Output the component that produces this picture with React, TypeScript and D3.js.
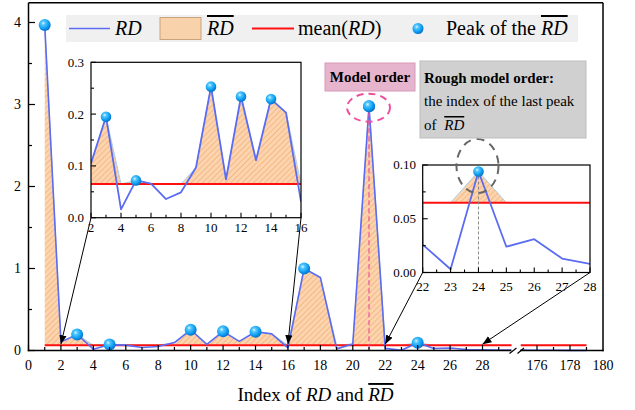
import React from "react";
import * as d3 from "d3";

// ---------- data ----------
const idxSeg1 = [1,2,3,4,5,6,7,8,9,10,11,12,13,14,15,16,17,18,19,20,21,22,23,24,25,26,27,28,29,30];
const rdSeg1 = [3.97,0.105,0.195,0.016,0.072,0.066,0.036,0.049,0.097,0.253,0.074,0.234,0.111,0.229,0.203,0.031,1.0,0.89,0.02,0.08,2.98,0.026,0.003,0.094,0.024,0.031,0.013,0.008,0.005,0.004];
const idxSeg2 = [175,176,177,178,179];
const rdSeg2 = [0.004,0.003,0.003,0.002,0.002];
const meanRD = 0.065;
const peakIdx = [1,3,5,10,12,14,17,21,24];
const modelOrder = 21;
const roughOrder = 24;
const mainYTicks = [0,1,2,3,4];
const seg1XTicks = [0,2,4,6,8,10,12,14,16,18,20,22,24,26,28];
const seg2XTicks = [176,178,180];
const inset1YTicks = [0,0.1,0.2,0.3];
const inset1XTicks = [2,4,6,8,10,12,14,16];
const inset2YTicks = [0,0.05,0.1];
const inset2XTicks = [22,23,24,25,26,27,28];

type P = { x: number; y: number };
const seg1: P[] = idxSeg1.map((x, i) => ({ x, y: rdSeg1[i] }));
const seg2: P[] = idxSeg2.map((x, i) => ({ x, y: rdSeg2[i] }));
const peaks: P[] = seg1.filter((d) => peakIdx.includes(d.x));

const SERIF = '"Liberation Serif", "Times New Roman", Times, "DejaVu Serif", serif';
const BLUE = "#5b6cf2";
const RED = "#ff1010";

// ---------- scales ----------
const x1 = d3.scaleLinear().domain([0, 29.8]).range([28.5, 511.7]);
const x2 = d3.scaleLinear().domain([175, 180]).range([520.5, 603]);
const yM = d3.scaleLinear().domain([0, 4]).range([350.5, 22.5]);

const ix1 = d3.scaleLinear().domain([2, 16]).range([91, 301]);
const iy1 = d3.scaleLinear().domain([0, 0.3]).range([217.7, 62.3]);
const ix2 = d3.scaleLinear().domain([22, 28]).range([422.7, 590]);
const iy2 = d3.scaleLinear().domain([0, 0.1]).range([272.5, 165]);

function Series({ data, xs, ys, clipId, lw = 1.6, showPeaks = true, r = 6 }: any) {
  const line = d3.line<P>().x((d) => xs(d.x)).y((d) => ys(d.y));
  const area = d3
    .area<P>()
    .x((d) => xs(d.x))
    .y0(ys(meanRD))
    .y1((d) => ys(Math.max(d.y, meanRD)));
  const barLine = d3.line<P>().x((d) => xs(d.x)).y((d) => ys(Math.max(d.y, meanRD)));
  const xd = xs.domain();
  return (
    <g clipPath={`url(#${clipId})`}>
      <path d={area(data) || ""} fill="url(#hatch)" />
      <path d={barLine(data) || ""} fill="none" stroke="#a9cdea" strokeWidth={1} />
      <line x1={xs(Math.max(xd[0], data[0].x))} x2={xs(Math.min(xd[1], data[data.length - 1].x))} y1={ys(meanRD)} y2={ys(meanRD)} stroke={RED} strokeWidth={2} />
      <path d={line(data) || ""} fill="none" stroke={BLUE} strokeWidth={lw} strokeLinejoin="round" />
      {showPeaks &&
        peaks
          .filter((p) => p.x >= xd[0] && p.x <= xd[1])
          .map((p) => <circle key={p.x} cx={xs(p.x)} cy={ys(p.y)} r={r} fill="url(#ball)" />)}
    </g>
  );
}

export default function App() {
  const yMean = yM(meanRD);
  const minor = (a: number, b: number, s: number) => d3.range(a, b + 1e-9, s);
  const T = { fontFamily: SERIF };
  return (
    <svg width={635} height={410} style={{ position: "absolute", left: 0, top: 0, background: "#fff", fontFamily: SERIF }}>
      <defs>
        <pattern id="hatch" patternUnits="userSpaceOnUse" width={4} height={4} patternTransform="rotate(45)">
          <rect width={4} height={4} fill="#fcd4ae" />
          <line x1={0} y1={0} x2={0} y2={4} stroke="#f3ae78" strokeWidth={1.4} />
        </pattern>
        <radialGradient id="ball" cx="0.38" cy="0.35" r="0.7">
          <stop offset="0%" stopColor="#e6f8ff" />
          <stop offset="22%" stopColor="#55c8ff" />
          <stop offset="65%" stopColor="#0c9df0" />
          <stop offset="100%" stopColor="#0668c4" />
        </radialGradient>
        <marker id="arr" viewBox="0 0 10 10" refX={10} refY={5} markerWidth={9} markerHeight={9} markerUnits="userSpaceOnUse" orient="auto">
          <path d="M0,1 L10,5 L0,9 z" fill="#000" />
        </marker>
        <clipPath id="c1"><rect x={28.5} y={0} width={511.7 - 28.5} height={352} /></clipPath>
        <clipPath id="c2"><rect x={520.5} y={0} width={603 - 520.5} height={352} /></clipPath>
        <clipPath id="ci1"><rect x={91} y={62.3} width={210} height={155.4} /></clipPath>
        <clipPath id="ci2"><rect x={422.7} y={165} width={590 - 422.7} height={107.5} /></clipPath>
      </defs>

      {/* main plot data */}
      <Series data={seg1} xs={x1} ys={yM} clipId="c1" />
      <Series data={seg2} xs={x2} ys={yM} clipId="c2" />
      {/* model order dashed */}
      <line x1={x1(modelOrder)} x2={x1(modelOrder)} y1={yM(2.98) + 6} y2={yM(0)} stroke="#ee4f9c" strokeWidth={1.2} strokeDasharray="5,3" />
      <circle cx={x1(modelOrder)} cy={yM(2.98)} r={6} fill="url(#ball)" />
      <ellipse cx={x1(modelOrder) - 0.5} cy={yM(2.98) + 1.5} rx={21.5} ry={14} fill="none" stroke="#ee4f9c" strokeWidth={2} strokeDasharray="7,5" />

      {/* main frame */}
      <g stroke="#000" strokeWidth={1.5} fill="none">
        <line x1={28.5} x2={28.5} y1={2.8} y2={351.2} />
        <line x1={28.5} x2={603} y1={2.8} y2={2.8} />
        <line x1={603} x2={603} y1={2.8} y2={351.2} />
        <line x1={27.8} x2={511} y1={350.5} y2={350.5} />
        <line x1={520} x2={603.7} y1={350.5} y2={350.5} />
        <line x1={509.5} x2={516.5} y1={353.5} y2={348} strokeWidth={1.2} />
        <line x1={517.5} x2={524} y1={353.5} y2={348} strokeWidth={1.2} />
      </g>
      {/* main ticks */}
      <g stroke="#000" strokeWidth={1.2}>
        {mainYTicks.map((t) => <line key={"my" + t} x1={28.5} x2={35} y1={yM(t)} y2={yM(t)} />)}
        {minor(0.5, 3.5, 1).map((t) => <line key={"mym" + t} x1={28.5} x2={32} y1={yM(t)} y2={yM(t)} />)}
        {seg1XTicks.map((t) => <line key={"mx" + t} x1={x1(t)} x2={x1(t)} y1={350.5} y2={345} />)}
        {minor(1, 29, 2).map((t) => <line key={"mxm" + t} x1={x1(t)} x2={x1(t)} y1={350.5} y2={347} />)}
        {[176, 178].map((t) => <line key={"m2" + t} x1={x2(t)} x2={x2(t)} y1={350.5} y2={345} />)}
        {[177, 179].map((t) => <line key={"m2m" + t} x1={x2(t)} x2={x2(t)} y1={350.5} y2={347} />)}
      </g>
      <g fontSize={14} fill="#000" style={T}>
        {mainYTicks.map((t) => <text key={"myl" + t} style={T} x={21} y={yM(t)} dy="0.34em" textAnchor="end">{t}</text>)}
        {seg1XTicks.map((t) => <text key={"mxl" + t} style={T} x={x1(t)} y={370} textAnchor="middle">{t}</text>)}
        {seg2XTicks.map((t) => <text key={"m2l" + t} style={T} x={x2(t)} y={370} textAnchor="middle">{t}</text>)}
      </g>
      {/* x title */}
      <text x={315.5} y={401} fontSize={19} textAnchor="middle" style={T}>
        Index of <tspan fontStyle="italic">RD</tspan> and <tspan fontStyle="italic" style={{ textDecoration: "overline" }}>RD</tspan>
      </text>

      {/* legend */}
      <rect x={66} y={15} width={512} height={27} fill="#f0f0f0" />
      <line x1={69} x2={110} y1={28.5} y2={28.5} stroke={BLUE} strokeWidth={1.6} />
      <text x={115} y={35} fontSize={20} fontStyle="italic" style={T}>RD</text>
      <rect x={160} y={17.5} width={41} height={22} fill="#f8d2ab" stroke="#c9a27e" strokeWidth={1} />
      <text x={207} y={35} fontSize={20} fontStyle="italic" style={{ ...T, textDecoration: "overline" }}>RD</text>
      <line x1={252} x2={294} y1={28.5} y2={28.5} stroke={RED} strokeWidth={2} />
      <text x={298} y={35} fontSize={20} style={T}>mean(<tspan fontStyle="italic">RD</tspan>)</text>
      <circle cx={418} cy={28.5} r={5.5} fill="url(#ball)" />
      <text x={446} y={35} fontSize={20} style={T}>Peak of the <tspan fontStyle="italic" style={{ textDecoration: "overline" }}>RD</tspan></text>

      {/* arrows */}
      <g stroke="#000" strokeWidth={1} markerEnd="url(#arr)">
        <line x1={91} y1={217.7} x2={x1(2)} y2={yMean - 1} />
        <line x1={301} y1={217.7} x2={x1(16)} y2={yMean - 1} />
        <line x1={422.7} y1={272.5} x2={x1(22)} y2={yMean - 1} />
        <line x1={590} y1={272.5} x2={x1(28)} y2={yMean - 1} />
      </g>

      {/* inset 1 */}
      <rect x={91} y={62.3} width={210} height={155.4} fill="#fff" />
      <Series data={seg1.filter((d) => d.x >= 2 && d.x <= 16)} xs={ix1} ys={iy1} clipId="ci1" r={5.3} lw={1.8} />
      <rect x={91} y={62.3} width={210} height={155.4} fill="none" stroke="#000" strokeWidth={1.2} />
      <g stroke="#000" strokeWidth={1.1}>
        {inset1YTicks.map((t) => <line key={"a" + t} x1={91} x2={96} y1={iy1(t)} y2={iy1(t)} />)}
        {[0.05, 0.15, 0.25].map((t) => <line key={"b" + t} x1={91} x2={94} y1={iy1(t)} y2={iy1(t)} />)}
        {inset1XTicks.map((t) => <line key={"c" + t} x1={ix1(t)} x2={ix1(t)} y1={217.7} y2={212.7} />)}
        {minor(3, 15, 2).map((t) => <line key={"d" + t} x1={ix1(t)} x2={ix1(t)} y1={217.7} y2={214.7} />)}
      </g>
      <g fontSize={13} style={T}>
        {inset1YTicks.map((t) => <text key={"e" + t} style={T} x={84} y={iy1(t)} dy="0.34em" textAnchor="end">{t.toFixed(1)}</text>)}
        {inset1XTicks.map((t) => <text key={"f" + t} style={T} x={ix1(t)} y={232} textAnchor="middle">{t}</text>)}
      </g>

      {/* inset 2 */}
      <rect x={422.7} y={165} width={590 - 422.7} height={107.5} fill="#fff" />
      <Series data={seg1.filter((d) => d.x >= 21 && d.x <= 29)} xs={ix2} ys={iy2} clipId="ci2" r={5.3} lw={1.8} showPeaks={false} />
      <line x1={ix2(roughOrder)} x2={ix2(roughOrder)} y1={iy2(0.094)} y2={272.5} stroke="#888" strokeWidth={1} strokeDasharray="3,2" />
      <circle cx={ix2(roughOrder)} cy={iy2(0.094)} r={5.3} fill="url(#ball)" />
      <rect x={422.7} y={165} width={590 - 422.7} height={107.5} fill="none" stroke="#000" strokeWidth={1.2} />
      <g stroke="#000" strokeWidth={1.1}>
        {inset2YTicks.map((t) => <line key={"g" + t} x1={422.7} x2={427.7} y1={iy2(t)} y2={iy2(t)} />)}
        {[0.025, 0.075].map((t) => <line key={"h" + t} x1={422.7} x2={425.7} y1={iy2(t)} y2={iy2(t)} />)}
        {inset2XTicks.map((t) => <line key={"i" + t} x1={ix2(t)} x2={ix2(t)} y1={272.5} y2={267.5} />)}
        {minor(22.5, 27.5, 1).map((t) => <line key={"j" + t} x1={ix2(t)} x2={ix2(t)} y1={272.5} y2={269.5} />)}
      </g>
      <g fontSize={13} style={T}>
        {inset2YTicks.map((t) => <text key={"k" + t} style={T} x={416} y={iy2(t)} dy="0.34em" textAnchor="end">{t.toFixed(2)}</text>)}
        {inset2XTicks.map((t) => <text key={"l" + t} style={T} x={ix2(t)} y={291} textAnchor="middle">{t}</text>)}
      </g>
      <ellipse cx={477.5} cy={166} rx={21} ry={27} fill="none" stroke="#666" strokeWidth={2} strokeDasharray="8,6" />

      {/* annotation boxes */}
      <rect x={325} y={63} width={90} height={28} fill="#e6b4cd" stroke="#d79ab8" strokeWidth={1} />
      <text x={370} y={82} fontSize={15} fontWeight="bold" textAnchor="middle" style={T}>Model order</text>
      <rect x={420} y={61} width={166} height={77} fill="#d0d0d0" stroke="#bdbdbd" strokeWidth={1} />
      <text x={424} y={83} fontSize={15} fontWeight="bold" style={T}>Rough model order:</text>
      <text x={424} y={106} fontSize={15} style={T}>the index of the last peak</text>
      <text x={424} y={130} fontSize={15} style={T}>of <tspan fontStyle="italic" dx={4} style={{ textDecoration: "overline" }}>RD</tspan></text>
    </svg>
  );
}
